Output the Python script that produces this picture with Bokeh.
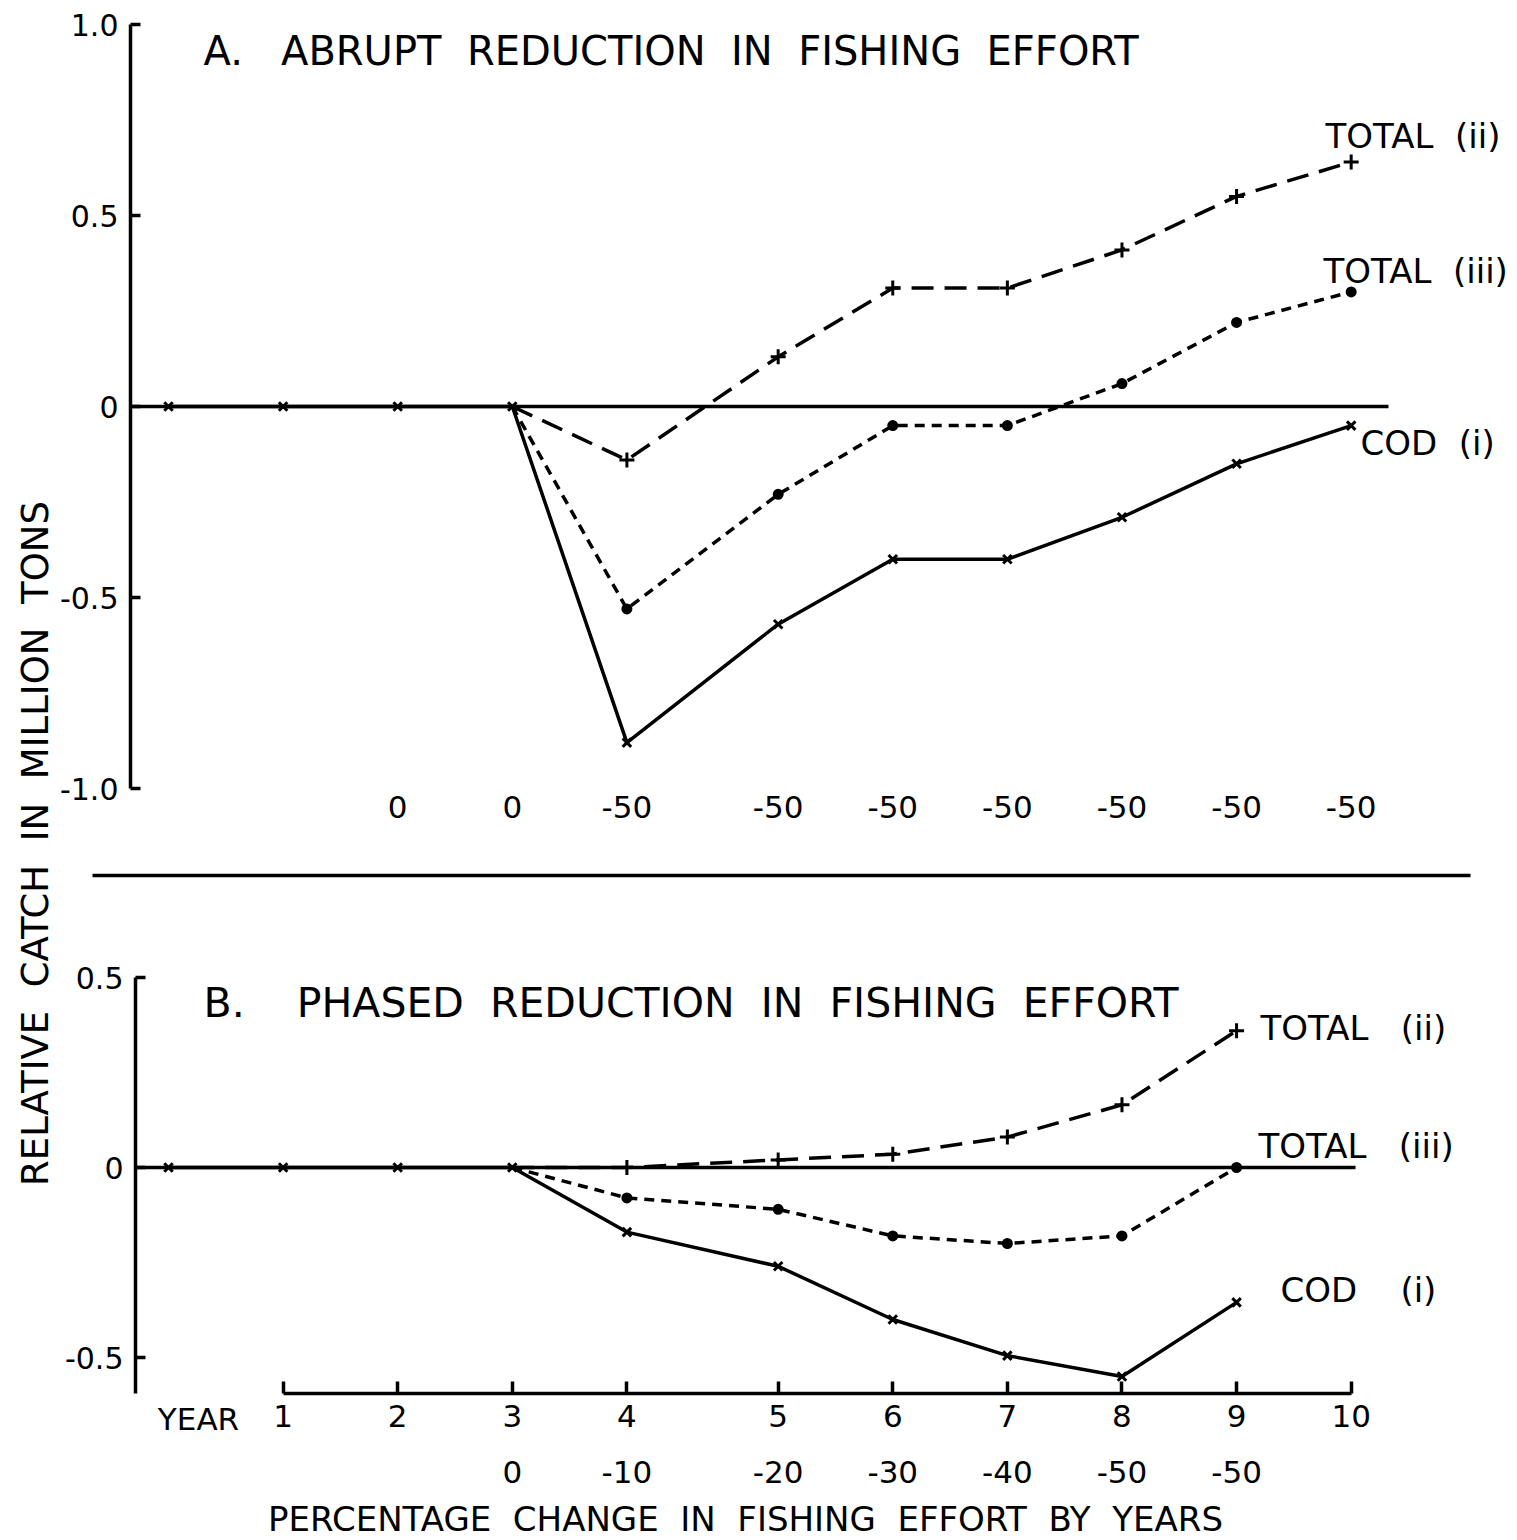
import math
from bokeh.plotting import figure
from bokeh.models import Range1d, LinearAxis, FixedTicker
from bokeh.core.properties import value
from bokeh.embed import file_html
from bokeh.resources import INLINE

# ---------------- data ----------------
# position of each year on the (broken) time axis, years 0..10
year_pos = [0, 1, 2, 3, 4, 5.32, 6.32, 7.32, 8.32, 9.32, 10.32]
year_tick_labels = ["1", "2", "3", "4", "5", "6", "7", "8", "9", "10"]  # years 1..10

# percentage change in fishing effort
effort_a_years = [2, 3, 4, 5, 6, 7, 8, 9, 10]
effort_a_labels = ["0", "0", "-50", "-50", "-50", "-50", "-50", "-50", "-50"]
effort_b_years = [3, 4, 5, 6, 7, 8, 9]
effort_b_labels = ["0", "-10", "-20", "-30", "-40", "-50", "-50"]

# A. abrupt reduction
a_cod_years = [0, 1, 2, 3, 4, 5, 6, 7, 8, 9, 10]
a_cod = [0.0, 0.0, 0.0, 0.0, -0.88, -0.57, -0.40, -0.40, -0.29, -0.15, -0.05]
a_tot2_years = [3, 4, 5, 6, 7, 8, 9, 10]
a_tot2 = [0.0, -0.14, 0.13, 0.31, 0.31, 0.41, 0.55, 0.64]
a_tot3_years = [3, 4, 5, 6, 7, 8, 9, 10]
a_tot3 = [0.0, -0.53, -0.23, -0.05, -0.05, 0.06, 0.22, 0.30]

# B. phased reduction
b_cod_years = [0, 1, 2, 3, 4, 5, 6, 7, 8, 9]
b_cod = [0.0, 0.0, 0.0, 0.0, -0.17, -0.26, -0.40, -0.495, -0.55, -0.355]
b_tot2_years = [3, 4, 5, 6, 7, 8, 9]
b_tot2 = [0.0, 0.0, 0.02, 0.035, 0.08, 0.165, 0.36]
b_tot3_years = [3, 4, 5, 6, 7, 8, 9]
b_tot3 = [0.0, -0.08, -0.11, -0.18, -0.20, -0.18, 0.0]

a_ticks = [-1.0, -0.5, 0.0, 0.5, 1.0]
a_tick_labels = ["-1.0", "-0.5", "0", "0.5", "1.0"]
b_ticks = [-0.5, 0.0, 0.5]
b_tick_labels = ["-0.5", "0", "0.5"]

# ---------------- layout helpers (picture pixels -> data units) ----------------
W, H = 1517, 1540
X0, XU = 168.0, 114.6          # x of year 0, pixels per year
YA0, YAU = 406.0, 382.0        # panel A: y of zero, pixels per unit
YB0, YBU = 1167.0, 380.0       # panel B
SP = "\u00a0"                  # non-collapsing space for wide lettering


def px(x):
    return (x - X0) / XU


def pya(y):
    return (YA0 - y) / YAU


def pyb(y):
    return (YB0 - y) / YBU


def spaced(words, gaps):
    out = words[0]
    for w, g in zip(words[1:], gaps):
        out += SP * g + w
    return out


FONT = value("DejaVu Sans")

p = figure(width=W, height=H, output_backend="svg", toolbar_location=None,
           x_axis_location=None, y_axis_location=None,
           x_range=Range1d(px(0), px(W)), y_range=Range1d(pya(H), pya(0)),
           min_border=0, outline_line_color=None, background_fill_color="white",
           border_fill_color="white")
p.extra_y_ranges = {"B": Range1d(pyb(H), pyb(0))}
p.xgrid.visible = False
p.ygrid.visible = False


def pos(years):
    return [year_pos[y] for y in years]


def style_axis(ax, size="30px"):
    ax.major_label_text_font = "DejaVu Sans"
    ax.major_label_text_font_size = size
    ax.major_label_text_color = "black"
    ax.axis_line_color = "black"
    ax.axis_line_width = 3.5
    ax.major_tick_line_color = "black"
    ax.major_tick_line_width = 3.5
    ax.minor_tick_line_color = None


# ---------------- axes ----------------
ya = LinearAxis(fixed_location=px(130), bounds=(-1.0, 1.0),
                ticker=FixedTicker(ticks=a_ticks, minor_ticks=[]),
                major_label_overrides=dict(zip(a_ticks, a_tick_labels)))
style_axis(ya)
ya.major_tick_in = 10
ya.major_tick_out = 0
ya.major_label_standoff = 12
p.add_layout(ya, "left")

yb = LinearAxis(fixed_location=px(135), y_range_name="B", bounds=(pyb(1393), 0.5),
                ticker=FixedTicker(ticks=b_ticks, minor_ticks=[]),
                major_label_overrides=dict(zip(b_ticks, b_tick_labels)))
style_axis(yb)
yb.major_tick_in = 10
yb.major_tick_out = 0
yb.major_label_standoff = 12
p.add_layout(yb, "left")

xb_ticks = year_pos[1:]
xb = LinearAxis(fixed_location=pyb(1393), y_range_name="B", bounds=(year_pos[1], year_pos[10]),
                ticker=FixedTicker(ticks=xb_ticks, minor_ticks=[]),
                major_label_overrides=dict(zip(xb_ticks, year_tick_labels)))
style_axis(xb, "31px")
xb.major_tick_in = 12
xb.major_tick_out = 0
xb.major_label_standoff = 11
p.add_layout(xb, "below")

ea_ticks = pos(effort_a_years)
ea = LinearAxis(fixed_location=pya(795),
                ticker=FixedTicker(ticks=ea_ticks, minor_ticks=[]),
                major_label_overrides=dict(zip(ea_ticks, effort_a_labels)))
style_axis(ea, "31px")
ea.axis_line_color = None
ea.major_tick_line_color = None
ea.major_tick_in = 0
ea.major_tick_out = 0
ea.major_label_standoff = 0
p.add_layout(ea, "below")

eb_ticks = pos(effort_b_years)
eb = LinearAxis(fixed_location=pyb(1460), y_range_name="B",
                ticker=FixedTicker(ticks=eb_ticks, minor_ticks=[]),
                major_label_overrides=dict(zip(eb_ticks, effort_b_labels)))
style_axis(eb, "31px")
eb.axis_line_color = None
eb.major_tick_line_color = None
eb.major_tick_in = 0
eb.major_tick_out = 0
eb.major_label_standoff = 0
p.add_layout(eb, "below")

# ---------------- reference lines ----------------
p.segment(x0=[px(130)], y0=[0], x1=[px(1388)], y1=[0], line_color="black", line_width=3.5)
p.segment(x0=[px(135)], y0=[0], x1=[px(1355)], y1=[0], line_color="black", line_width=3.5,
          y_range_name="B")
p.segment(x0=[px(92)], y0=[pya(875)], x1=[px(1470)], y1=[pya(875)], line_color="black",
          line_width=3.5)

# ---------------- series ----------------
LW = 3.5
DASH_LONG = "22 11"
DASH_SHORT = "10 7"


def draw(years, vals, marker, dash, rng="default", mark_from=0):
    xs = pos(years)
    p.line(xs, vals, line_color="black", line_width=LW, line_dash=dash, y_range_name=rng)
    kw = dict(size=12, line_color="black", line_width=3, fill_color="black", y_range_name=rng)
    if marker == "circle":
        kw["size"] = 8
    if marker == "cross":
        kw["size"] = 15
    p.scatter(xs[mark_from:], vals[mark_from:], marker=marker, **kw)


draw(a_cod_years, a_cod, "x", "solid")
draw(a_tot2_years, a_tot2, "cross", DASH_LONG, mark_from=1)
draw(a_tot3_years, a_tot3, "circle", DASH_SHORT, mark_from=1)
draw(b_cod_years, b_cod, "x", "solid", rng="B")
draw(b_tot2_years, b_tot2, "cross", DASH_LONG, rng="B", mark_from=1)
draw(b_tot3_years, b_tot3, "circle", DASH_SHORT, rng="B", mark_from=1)

# ---------------- texts ----------------


def txt(x, y, t, size, align="left", angle=0.0, rng="default"):
    p.text(x=[x], y=[y], text=[t], text_font=FONT, text_font_size=size, text_color="black",
           text_align=align, text_baseline="middle", angle=angle, y_range_name=rng)


txt(px(203), pya(50),
    spaced(["A.", "ABRUPT", "REDUCTION", "IN", "FISHING", "EFFORT"], [3, 2, 2, 2, 2]), "40px")
txt(px(203), pyb(1002),
    spaced(["B.", "PHASED", "REDUCTION", "IN", "FISHING", "EFFORT"], [4, 2, 2, 2, 2]), "41px",
    rng="B")

txt(px(1325), pya(135), spaced(["TOTAL", "(ii)"], [2]), "34px")
txt(px(1323), pya(270), spaced(["TOTAL", "(iii)"], [2]), "34px")
txt(px(1360), pya(442), spaced(["COD", "(i)"], [2]), "34px")
txt(px(1260), pyb(1027), spaced(["TOTAL", "(ii)"], [3]), "34px", rng="B")
txt(px(1258), pyb(1145), spaced(["TOTAL", "(iii)"], [3]), "34px", rng="B")
txt(px(1280), pyb(1289), spaced(["COD", "(i)"], [4]), "34px", rng="B")

txt(px(198), pyb(1418), "YEAR", "31px", align="center", rng="B")
txt(px(745), pyb(1518),
    spaced(["PERCENTAGE", "CHANGE", "IN", "FISHING", "EFFORT", "BY", "YEARS"],
           [2, 2, 2, 2, 2, 2]), "34px", align="center", rng="B")
txt(px(35), pya(843),
    spaced(["RELATIVE", "CATCH", "IN", "MILLION", "TONS"], [2, 2, 2, 2]), "37px",
    align="center", angle=math.pi / 2)

open("out.html", "w").write(file_html(p, INLINE))
